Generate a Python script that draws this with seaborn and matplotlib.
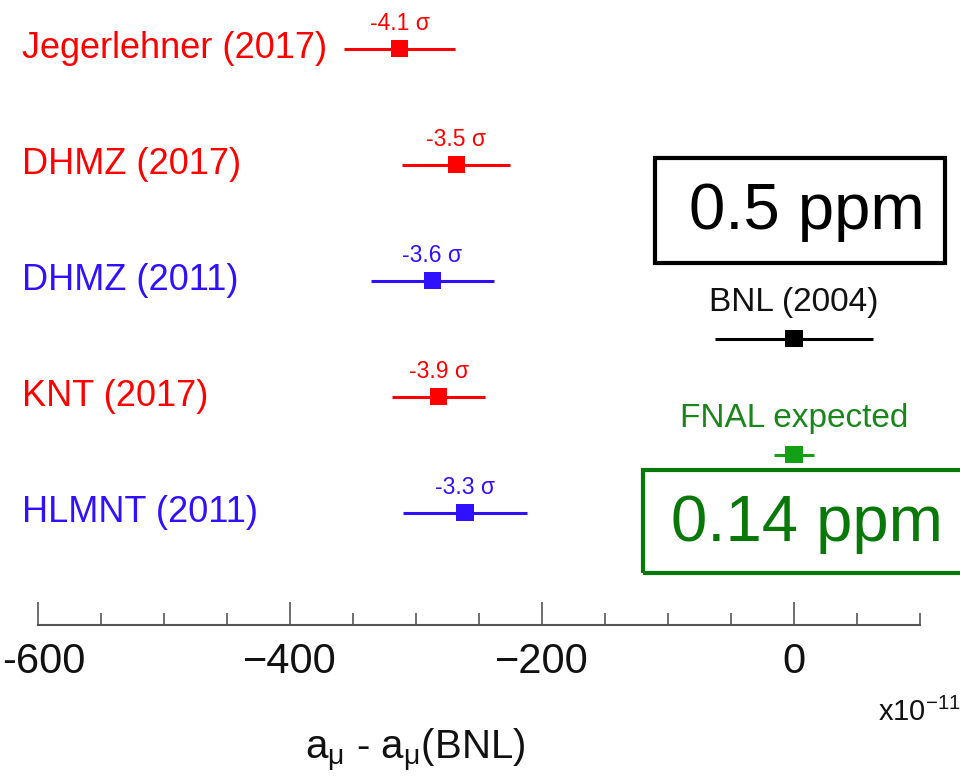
import numpy as np
import pandas as pd
import matplotlib
matplotlib.use('Agg')
import matplotlib.pyplot as plt
import matplotlib.transforms as mtransforms
from matplotlib.ticker import MultipleLocator
from matplotlib.patches import Rectangle
import seaborn as sns

# ---- data ----
names = ['Jegerlehner (2017)', 'DHMZ (2017)', 'DHMZ (2011)', 'KNT (2017)', 'HLMNT (2011)']
values = [-313, -268, -287, -282, -261]
errors = [44, 43, 49, 37, 49]
sigmas = ['-4.1 σ', '-3.5 σ', '-3.6 σ', '-3.9 σ', '-3.3 σ']
rows = [0, 1, 2, 3, 4]
colors = ['#ff0000', '#ff0000', '#3010ff', '#ff0000', '#3010ff']

exp_names = ['BNL (2004)', 'FNAL expected']
exp_values = [0, 0]
exp_errors = [63, 16]
exp_rows = [2.5, 3.5]
exp_colors = ['#000000', '#14a014']
exp_text_colors = ['#111111', '#1a861a']

xticks = [-600, -400, -200, 0]
xtick_labels = ['-600', '\u2212400', '\u2212200', '0']

sns.set_theme(style='white')
plt.rcParams['font.family'] = ['Liberation Sans', 'DejaVu Sans']
plt.rcParams['mathtext.fontset'] = 'custom'
plt.rcParams['mathtext.rm'] = 'Liberation Sans'
plt.rcParams['mathtext.it'] = 'Liberation Sans'

df = pd.DataFrame({'name': names + exp_names,
                   'value': values + exp_values,
                   'err': errors + exp_errors,
                   'row': rows + exp_rows,
                   'color': colors + exp_colors})

fig = plt.figure(figsize=(9.6, 7.83), dpi=100)
ax = fig.add_axes([38 / 960, 1 - 625 / 783, (920 - 38) / 960, 625 / 783])

# error bars
for _, r in df.iterrows():
    ax.errorbar(r['value'], r['row'], xerr=r['err'], fmt='none',
                ecolor=r['color'], elinewidth=2.2, capsize=0, zorder=2)

sns.scatterplot(data=df, x='value', y='row', hue='name',
                palette=dict(zip(df['name'], df['color'])),
                marker='s', s=160, linewidth=0, legend=False, ax=ax, zorder=3)

# labels at left and sigma tags
for n, v, r, c, s in zip(names, values, rows, colors, sigmas):
    ax.text(-613, r, n, color=c, fontsize=26, ha='left', va='center')
    ax.text(v, r - 0.22, s, color=c, fontsize=16.5, ha='center', va='center')

for n, v, r, c in zip(exp_names, exp_values, exp_rows, exp_text_colors):
    ax.text(v, r - 0.31, n, color=c, fontsize=24, ha='center', va='center')

ax.set_xlim(-600, 100)
ax.set_ylim(4.97, -0.42)
ax.set_xticks(xticks)
ax.set_xticklabels(xtick_labels)
ax.xaxis.set_minor_locator(MultipleLocator(50))
ax.set_yticks([])
ax.set_xlabel('')
ax.set_ylabel('')
for side in ['top', 'left', 'right']:
    ax.spines[side].set_visible(False)
ax.spines['bottom'].set_color('#555555')
ax.spines['bottom'].set_linewidth(1.5)
ax.tick_params(axis='x', which='both', bottom=True, top=False)
ax.tick_params(axis='x', which='major', direction='in', length=16.5, width=1.2,
               color='#555555', labelsize=30, pad=12, labelcolor='#111111')
ax.tick_params(axis='x', which='minor', direction='in', length=8.5, width=1.2,
               color='#555555')

# nudge the leftmost tick label so it stays inside the figure
first = ax.get_xticklabels()[0]
first.set_transform(first.get_transform() +
                    mtransforms.ScaledTranslation(6 / 100, 0, fig.dpi_scale_trans))

fig.text(878 / 960, 1 - 712 / 783, r'x10$^{-11}$', fontsize=21, ha='left',
         va='center', color='#111111')
fig.text(415 / 960, 1 - 750 / 783, r'a$_\mu$ - a$_\mu$(BNL)', fontsize=29,
         ha='center', va='center', color='#111111')

# precision boxes
fig.patches.append(Rectangle((655 / 960, 1 - 263 / 783), 290 / 960, 105 / 783,
                             transform=fig.transFigure, fill=False,
                             edgecolor='black', linewidth=3))
fig.text(807 / 960, 1 - 212 / 783, '0.5 ppm', fontsize=47, ha='center',
         va='center', color='black')
fig.patches.append(Rectangle((643 / 960, 1 - 573 / 783), 360 / 960, 103 / 783,
                             transform=fig.transFigure, fill=False,
                             edgecolor='#087808', linewidth=3))
fig.text(807 / 960, 1 - 524 / 783, '0.14 ppm', fontsize=47, ha='center',
         va='center', color='#087808')

fig.savefig('out.png', dpi=100)
